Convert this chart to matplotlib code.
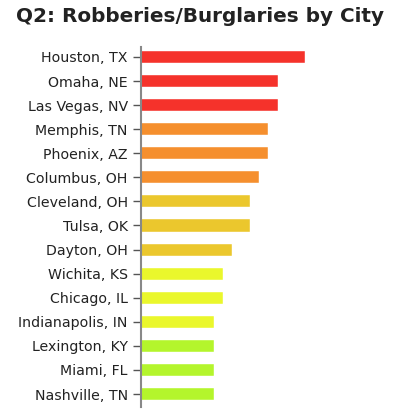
import matplotlib.pyplot as plt

cities = ["Houston, TX", "Omaha, NE", "Las Vegas, NV", "Memphis, TN", "Phoenix, AZ",
          "Columbus, OH", "Cleveland, OH", "Tulsa, OK", "Dayton, OH", "Wichita, KS",
          "Chicago, IL", "Indianapolis, IN", "Lexington, KY", "Miami, FL", "Nashville, TN"]
counts = [18, 15, 15, 14, 14, 13, 12, 12, 10, 9, 9, 8, 8, 8, 8]

# colour bands, three cities each
band_colors = ["#f5322b", "#f58f2e", "#ebc72d", "#eaf72c", "#b4f52c"]
colors = [band_colors[i // 3] for i in range(len(cities))]

fig = plt.figure(figsize=(3.93, 4.13), dpi=100)
ax = fig.add_axes([141 / 393, 6 / 413, 182 / 393, 360 / 413])

y = list(range(len(cities)))
ax.barh(y, counts, height=0.5, color=colors, edgecolor="white", linewidth=0.3)

ax.set_xlim(0, 20)
ax.set_ylim(14.54, -0.415)
ax.set_yticks(y)
ax.set_yticklabels(cities, fontsize=10.2, color="#222222")
ax.tick_params(axis="y", length=6, width=1, color="#555555", pad=3.5)
ax.set_xticks([])

for s in ["top", "right", "bottom"]:
    ax.spines[s].set_visible(False)
ax.spines["left"].set_color("#888888")
ax.spines["left"].set_linewidth(1.5)

fig.text(16 / 393, 1 - 17 / 413, "Q2: Robberies/Burglaries by City",
         fontsize=14.4, fontweight="bold", color="#222222", va="center", ha="left")

fig.savefig("out.png", dpi=100)
